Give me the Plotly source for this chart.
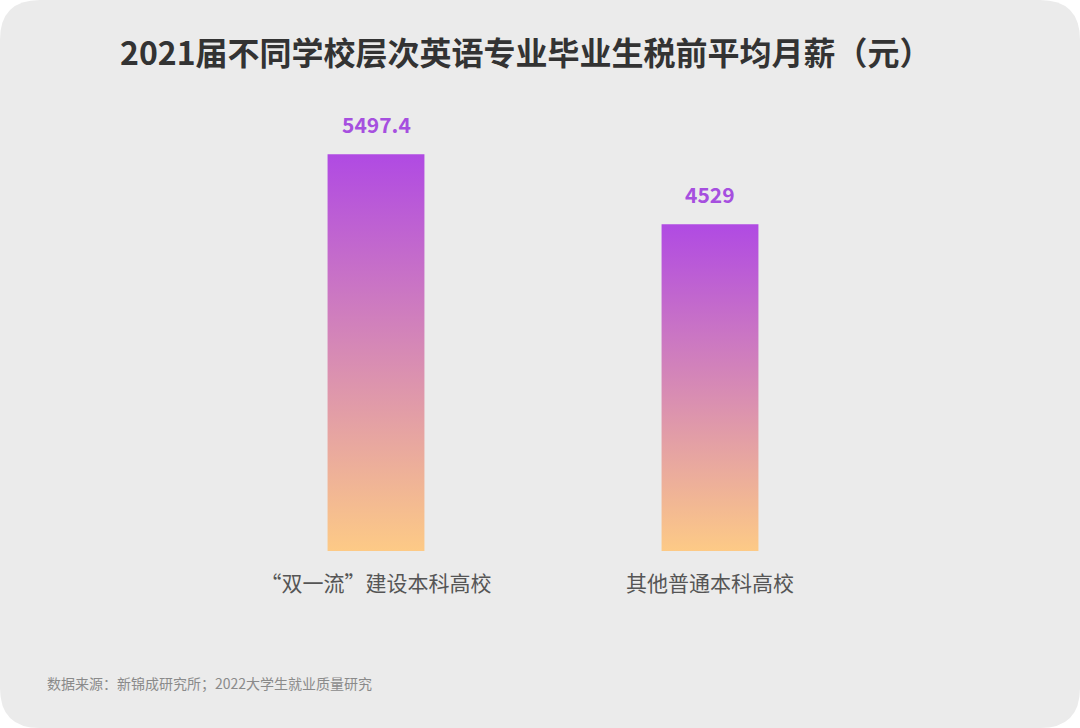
import plotly.graph_objects as go

categories = ["“双一流”建设本科高校", "其他普通本科高校"]
values = [5497.4, 4529]
value_labels = ["5497.4", "4529"]
title_text = "2021届不同学校层次英语专业毕业生税前平均月薪（元）"
source_text = "数据来源：新锦成研究所；2022大学生就业质量研究"

W, H = 1080, 728
FONT = "Noto Sans CJK SC"
bar_half = 0.145

fig = go.Figure()
for i, (cat, v) in enumerate(zip(categories, values)):
    fig.add_trace(go.Scatter(
        x=[i - bar_half, i + bar_half, i + bar_half, i - bar_half, i - bar_half],
        y=[0, 0, v, v, 0],
        mode="lines", line=dict(width=0), fill="toself",
        fillgradient=dict(type="vertical",
                          colorscale=[[0, "#fdca86"], [1, "#b04ae3"]]),
        hoverinfo="skip", showlegend=False,
    ))
    fig.add_annotation(x=i, y=v, xref="x", yref="y", text=value_labels[i],
                       showarrow=False, yanchor="bottom", yshift=13,
                       font=dict(family=FONT, size=21, color="#a64fdf", weight="bold"))

# rounded gray panel
r = 40
def px(x): return x / W
def py(y): return 1 - y / H
path = (f"M {px(r)},{py(0)} L {px(W-r)},{py(0)} Q {px(W)},{py(0)} {px(W)},{py(r)} "
        f"L {px(W)},{py(H-r)} Q {px(W)},{py(H)} {px(W-r)},{py(H)} "
        f"L {px(r)},{py(H)} Q {px(0)},{py(H)} {px(0)},{py(H-r)} "
        f"L {px(0)},{py(r)} Q {px(0)},{py(0)} {px(r)},{py(0)} Z")
fig.add_shape(type="path", path=path, xref="paper", yref="paper",
              fillcolor="#ebebeb", line=dict(width=0), layer="below")

fig.add_annotation(text=title_text, x=526 / W, y=py(51), xref="paper", yref="paper",
                   showarrow=False, xanchor="center", yanchor="middle",
                   font=dict(family=FONT, size=32, color="#333333", weight="bold"))
fig.add_annotation(text=source_text, x=45 / W, y=py(683), xref="paper", yref="paper",
                   showarrow=False, xanchor="left", yanchor="middle",
                   font=dict(family=FONT, size=14, color="#8a8a8a"))

plot_left, plot_right = 209, 877
plot_top, plot_bottom = 118, 551
fig.update_layout(
    width=W, height=H,
    margin=dict(l=0, r=0, t=0, b=0),
    paper_bgcolor="white", plot_bgcolor="rgba(0,0,0,0)",
    xaxis=dict(domain=[plot_left / W, plot_right / W], range=[-0.5, 1.5],
               tickmode="array", tickvals=[0, 1], ticktext=categories,
               showgrid=False, zeroline=False, showline=False, ticks="",
               ticklabelstandoff=18,
               tickfont=dict(family=FONT, size=21, color="#555555")),
    yaxis=dict(domain=[1 - plot_bottom / H, 1 - plot_top / H], range=[0, 6000],
               visible=False, showgrid=False, zeroline=False),
)

fig.write_html("out.html")
